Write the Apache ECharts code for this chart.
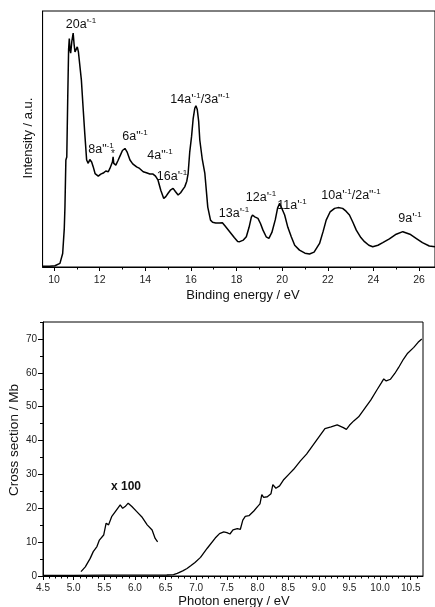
<!DOCTYPE html>
<html><head><meta charset="utf-8">
<script src="https://cdn.jsdelivr.net/npm/echarts@6/dist/echarts.min.js"></script>
<style>html,body{margin:0;padding:0;background:#fff}#c{width:435px;height:607px}</style>
</head><body><div id="c"></div>
<script>
// ---- Photoelectron spectrum (top) ----
const pesEnergy = [9.5,9.8,10.04,10.26,10.38,10.45,10.48,10.52,10.56,10.6,10.64,10.67,10.7,10.73,10.78,10.84,10.88,10.92,10.97,11.02,11.07,11.11,11.14,11.2,11.27,11.35,11.43,11.5,11.57,11.65,11.72,11.8,11.94,12.05,12.16,12.27,12.38,12.45,12.52,12.56,12.59,12.62,12.71,12.8,12.9,13.0,13.11,13.2,13.33,13.45,13.62,13.75,13.91,14.05,14.2,14.34,14.45,14.56,14.68,14.81,14.9,15.0,15.1,15.22,15.32,15.44,15.55,15.65,15.73,15.82,15.88,15.95,16.03,16.1,16.17,16.22,16.28,16.34,16.39,16.5,16.61,16.74,16.86,16.95,17.09,17.25,17.38,17.5,17.7,17.9,18.05,18.14,18.3,18.43,18.55,18.65,18.7,18.8,18.94,19.05,19.16,19.3,19.42,19.55,19.7,19.8,19.89,19.95,20.11,20.25,20.4,20.55,20.76,21.0,21.2,21.4,21.64,21.8,21.93,22.1,22.3,22.45,22.65,22.8,22.95,23.1,23.25,23.45,23.61,23.8,23.97,24.2,24.41,24.7,25.0,25.29,25.6,25.87,26.15,26.45,26.7];
const pesIntensity = [0.3,0.3,0.5,1.4,5.3,15,23.5,41.8,43,65,85,89.2,85,83.5,88,91.4,87,84.0,85,86.0,84,84.7,83.5,73,63,52,41.8,40.5,42,41,39.1,36.5,35.5,36.3,36.7,37.5,37.2,38.5,39.1,41,43.0,40.5,39.8,41.5,43.5,45.5,46.3,45,41.8,40.3,39.1,38.5,37.2,36.8,36.3,36.3,35.5,33.9,30,26.8,27.5,28.8,30,30.7,29.5,28.1,29,30.3,31.3,33.5,36.6,45,51,58,62,63,61.5,57,49.6,42,36.7,23.4,18.3,17.5,17.2,17.2,17.3,16,13.8,11.5,10,9.9,10.5,11.8,15.5,19.5,20.3,19.6,19.0,17,14.4,11.8,11.2,13.5,18.5,23,24.9,24.3,20.3,15.5,11.8,8.5,6.6,5.4,5.1,5.8,9.2,14,18.3,21.5,22.9,23.2,22.9,21.8,20.3,17.5,14.4,11.5,9.9,8.5,7.9,8.5,9.5,11,12.8,13.8,12.8,11.2,9.5,8.2,7.9];
const pesTickLabels = [10,12,14,16,18,20,22,24,26];
const pesMinorTicks = [11,13,15,17,19,21,23,25];

// ---- Absorption cross section (bottom) ----
const absEnergy = [4.5,5.0,5.5,6.0,6.3,6.52,6.63,6.69,6.78,6.85,6.91,6.98,7.07,7.18,7.31,7.38,7.45,7.5,7.55,7.6,7.67,7.72,7.76,7.8,7.86,7.94,8.0,8.04,8.07,8.1,8.16,8.22,8.25,8.3,8.36,8.43,8.51,8.59,8.7,8.8,8.9,9.0,9.1,9.2,9.3,9.4,9.45,9.5,9.57,9.65,9.75,9.85,9.95,10.02,10.06,10.1,10.17,10.24,10.3,10.38,10.45,10.55,10.62,10.68];
const absCross = [0.2,0.2,0.25,0.25,0.25,0.3,0.4,0.8,1.5,2.2,3.0,4.0,5.5,8.2,11.2,12.5,13.0,12.8,12.4,13.6,14.0,13.8,16.5,17.6,17.8,19.2,20.5,21.3,24.0,23.2,23.4,24.3,27.0,25.9,26.6,28.5,30,31.5,34,36,38.5,41,43.5,44,44.6,43.8,43.3,44.5,45.8,47,49.5,52,55,57,58.2,57.6,58.1,59.8,61.5,64,65.8,67.5,69,70];
const x100Energy = [5.12,5.19,5.27,5.32,5.38,5.42,5.49,5.53,5.57,5.62,5.68,5.76,5.80,5.84,5.89,5.95,6.03,6.11,6.20,6.28,6.33,6.37];
const x100Cross = [1.3,2.7,5.2,7.2,8.7,10.6,12.1,15.6,15.1,17.5,19.0,21.0,20.0,20.5,21.5,20.5,19.0,17.5,15.1,13.6,11.1,10.1];
const absXTickLabels = [4.5,5.0,5.5,6.0,6.5,7.0,7.5,8.0,8.5,9.0,9.5,10.0,10.5];
const absYTickLabels = [0,10,20,30,40,50,60,70];

const absXMinor = [];
for (let i = 46; i <= 106; i++) { if (i % 5 !== 0) absXMinor.push(i / 10); }
const absYMinor = [5,15,25,35,45,55,65,75];

const zip = (a, b) => a.map((v, i) => [v, b[i]]);
const FONT = '"Liberation Sans", Arial, Helvetica, sans-serif';
const tickColor = '#222';

function ann(x, y, parts, extra) {
  const text = parts.map(p => p[1] ? '{s|' + p[0] + '}' : '{b|' + p[0] + '}').join('');
  return Object.assign({
    type: 'text', x: x, y: y, z: 100,
    style: {
      text: text, align: 'center', verticalAlign: 'middle',
      rich: {
        b: { fontFamily: FONT, fontSize: 12.5, fill: '#111', lineHeight: 15, verticalAlign: 'bottom' },
        s: { fontFamily: FONT, fontSize: 8, fill: '#111', lineHeight: 15, verticalAlign: 'top' }
      }
    }
  }, extra || {});
}

const chart = echarts.init(document.getElementById('c'), null, { renderer: 'canvas' });
const option = {
  backgroundColor: '#fff',
  animation: false,
  textStyle: { fontFamily: FONT },
  grid: [
    { left: 42.6, top: 11, right: 0, height: 256, show: true, borderColor: '#000', borderWidth: 1, backgroundColor: 'transparent' },
    { left: 43, top: 322, width: 380, height: 254, show: true, borderColor: '#000', borderWidth: 1, backgroundColor: 'transparent' }
  ],
  xAxis: [
    { type: 'value', gridIndex: 0, min: 9.5, max: 26.7,
      axisLine: { show: true, onZero: false, lineStyle: { color: '#000', width: 1 } },
      axisTick: { show: true, customValues: pesTickLabels, length: 4, lineStyle: { color: '#000' } },
      axisLabel: { show: true, customValues: pesTickLabels, margin: 8, fontSize: 10.5, color: tickColor, fontFamily: FONT },
      splitLine: { show: false } },
    { type: 'value', gridIndex: 0, min: 9.5, max: 26.7, position: 'bottom',
      axisLine: { show: false },
      axisTick: { show: true, customValues: pesMinorTicks, length: 2.5, lineStyle: { color: '#000' } },
      axisLabel: { show: false }, splitLine: { show: false } },
    { type: 'value', gridIndex: 1, min: 4.5, max: 10.7,
      axisLine: { show: true, onZero: false, lineStyle: { color: '#000', width: 1 } },
      axisTick: { show: true, customValues: absXTickLabels, length: 4, lineStyle: { color: '#000' } },
      axisLabel: { show: true, customValues: absXTickLabels, margin: 7, fontSize: 10, color: tickColor, fontFamily: FONT,
        formatter: v => Number(v).toFixed(1) },
      splitLine: { show: false } },
    { type: 'value', gridIndex: 1, min: 4.5, max: 10.7, position: 'bottom',
      axisLine: { show: false },
      axisTick: { show: true, customValues: absXMinor, length: 2.5, lineStyle: { color: '#000' } },
      axisLabel: { show: false }, splitLine: { show: false } }
  ],
  yAxis: [
    { type: 'value', gridIndex: 0, min: 0, max: 100,
      axisLine: { show: true, onZero: false, lineStyle: { color: '#000', width: 1 } },
      axisTick: { show: false }, axisLabel: { show: false }, splitLine: { show: false } },
    { type: 'value', gridIndex: 1, min: 0, max: 75,
      axisLine: { show: true, onZero: false, lineStyle: { color: '#000', width: 1 } },
      axisTick: { show: true, customValues: absYTickLabels, length: 5, lineStyle: { color: '#000' } },
      axisLabel: { show: true, customValues: absYTickLabels, margin: 6, fontSize: 10, color: tickColor, fontFamily: FONT },
      splitLine: { show: false } },
    { type: 'value', gridIndex: 1, min: 0, max: 75, position: 'left',
      axisLine: { show: false },
      axisTick: { show: true, customValues: absYMinor, length: 3, lineStyle: { color: '#000' } },
      axisLabel: { show: false }, splitLine: { show: false } }
  ],
  series: [
    { type: 'line', name: 'PES', xAxisIndex: 0, yAxisIndex: 0, data: zip(pesEnergy, pesIntensity),
      showSymbol: false, symbol: 'none', lineStyle: { color: '#000', width: 1.5 }, z: 5 },
    { type: 'line', name: 'Cross section', xAxisIndex: 2, yAxisIndex: 1, data: zip(absEnergy, absCross),
      showSymbol: false, symbol: 'none', lineStyle: { color: '#000', width: 1.3 }, z: 5 },
    { type: 'line', name: 'x100', xAxisIndex: 2, yAxisIndex: 1, data: zip(x100Energy, x100Cross),
      showSymbol: false, symbol: 'none', lineStyle: { color: '#000', width: 1.3 }, z: 5 }
  ],
  graphic: [
    { type: 'text', x: 243, y: 295, style: { text: 'Binding energy / eV', fontFamily: FONT, fontSize: 13, fill: '#111', align: 'center', verticalAlign: 'middle' } },
    { type: 'text', x: 28, y: 138, rotation: Math.PI / 2, style: { text: 'Intensity / a.u.', fontFamily: FONT, fontSize: 13, fill: '#111', align: 'center', verticalAlign: 'middle' } },
    { type: 'text', x: 14, y: 440, rotation: Math.PI / 2, style: { text: 'Cross section / Mb', fontFamily: FONT, fontSize: 13.5, fill: '#111', align: 'center', verticalAlign: 'middle' } },
    { type: 'text', x: 234, y: 601, style: { text: 'Photon energy / eV', fontFamily: FONT, fontSize: 13, fill: '#111', align: 'center', verticalAlign: 'middle' } },
    { type: 'text', x: 126, y: 487, style: { text: 'x 100', fontFamily: FONT, fontSize: 12, fontWeight: 'bold', fill: '#111', align: 'center', verticalAlign: 'middle' } },
    ann(81, 24, [["20a'", 0], ['-1', 1]]),
    ann(101, 149, [['8a"', 0], ['-1', 1]]),
    { type: 'text', x: 113, y: 154, style: { text: '*', fontFamily: FONT, fontSize: 10, fill: '#111', align: 'center', verticalAlign: 'middle' } },
    ann(135, 136, [['6a"', 0], ['-1', 1]]),
    ann(160, 155, [['4a"', 0], ['-1', 1]]),
    ann(172, 176, [["16a'", 0], ['-1', 1]]),
    ann(200, 99, [["14a'", 0], ['-1', 1], ['/3a"', 0], ['-1', 1]]),
    ann(234, 213, [["13a'", 0], ['-1', 1]]),
    ann(261, 197, [["12a'", 0], ['-1', 1]]),
    ann(292, 205, [["11a'", 0], ['-1', 1]]),
    ann(351, 195, [["10a'", 0], ['-1', 1], ['/2a"', 0], ['-1', 1]]),
    ann(410, 218, [["9a'", 0], ['-1', 1]])
  ]
};
chart.setOption(option);
</script>
</body></html>
